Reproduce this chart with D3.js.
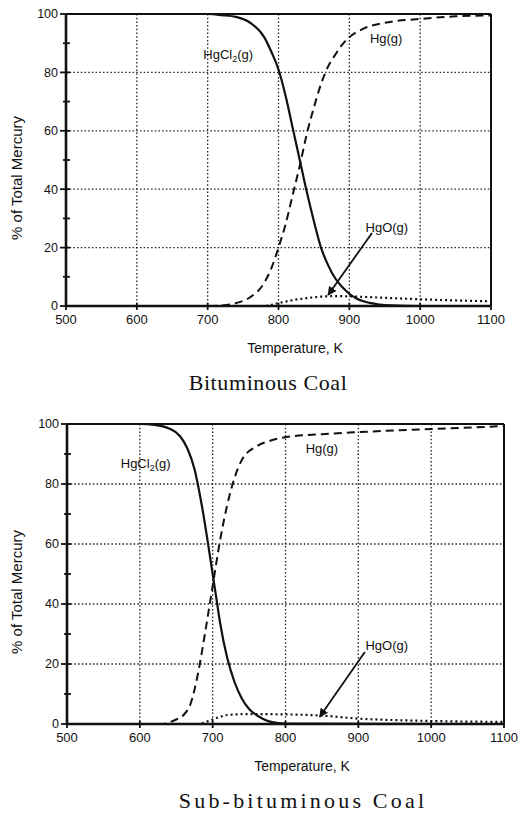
<!DOCTYPE html>
<html>
<head>
  <meta charset="UTF-8">
  <title>Mercury speciation</title>
  <script src="https://cdnjs.cloudflare.com/ajax/libs/d3/7.8.5/d3.min.js"></script>
  <style>
    body { margin: 0; background: #fff; }
    .tick-label { font: 12.5px "Liberation Sans", Arial, sans-serif; fill: #111; }
    .axis-title { font: 14px "Liberation Sans", Arial, sans-serif; fill: #111; }
    .curve-label { font: 13px "Liberation Sans", Arial, sans-serif; fill: #111; }
    .caption { font: 22px "Liberation Serif", "Times New Roman", serif; fill: #111; }
  </style>
</head>
<body>
<script>
  // Temperatures (K) and species percentages
  const xTicks = [500, 600, 700, 800, 900, 1000, 1100];
  const yTicks = [0, 20, 40, 60, 80, 100];

  // Bituminous coal
  const bitT_HgCl2 = [500, 600, 700, 720, 740, 760, 780, 790, 800, 810, 820, 830, 840, 850, 860, 870, 880, 890, 900, 910, 920, 940, 960, 1000, 1100];
  const bitV_HgCl2 = [100, 100, 100, 99.6, 99, 97, 92, 87, 81, 72, 61, 50, 39, 29, 20, 14, 9.5, 6.5, 4.2, 2.6, 1.6, 0.6, 0.2, 0, 0];
  const bitT_Hg = [500, 700, 720, 740, 760, 780, 790, 800, 810, 820, 830, 840, 850, 860, 870, 880, 890, 900, 920, 950, 1000, 1050, 1100];
  const bitV_Hg = [0, 0, 0.2, 1, 3, 8, 13, 20, 28, 38, 48, 59, 68, 76, 82, 86, 89.5, 92, 95, 97, 98.3, 99.2, 99.5];
  const bitT_HgO = [500, 780, 800, 820, 840, 860, 880, 900, 950, 1000, 1050, 1100];
  const bitV_HgO = [0, 0, 1, 2, 2.7, 3.2, 3.4, 3.3, 2.8, 2.3, 1.9, 1.6];

  // Sub-bituminous coal
  const subT_HgCl2 = [500, 600, 620, 640, 655, 665, 675, 685, 695, 700, 705, 710, 720, 730, 740, 750, 760, 770, 780, 800, 1100];
  const subV_HgCl2 = [100, 100, 99.7, 98.5, 96, 92, 85, 73, 58, 50, 42, 34, 22, 14, 8.5, 5, 3, 1.6, 0.7, 0.1, 0];
  const subT_Hg = [500, 630, 640, 650, 660, 670, 680, 690, 700, 710, 720, 730, 740, 760, 780, 800, 850, 900, 1000, 1100];
  const subV_Hg = [0, 0, 0.5, 1.5, 3, 7, 17, 31, 46, 61, 73, 82, 88, 92.5, 94.5, 95.6, 96.6, 97.3, 98.3, 99.3];
  const subT_HgO = [500, 680, 690, 700, 710, 720, 750, 800, 850, 900, 950, 1000, 1100];
  const subV_HgO = [0, 0, 0.6, 1.5, 2.4, 3, 3.3, 3.2, 2.8, 1.8, 1.3, 1, 0.7];

  const panels = [
    {
      caption: "Bituminous Coal", left: 66, right: 491, top: 14, bottom: 306,
      captionX: 268, captionSpacing: 0.6, xTitleX: 295,
      hgcl2: [bitT_HgCl2, bitV_HgCl2], hg: [bitT_Hg, bitV_Hg], hgo: [bitT_HgO, bitV_HgO],
      hgcl2Label: [729, 86], hgLabel: [952, 91.5], hgoLabel: [953, 27],
      arrow: [[932, 25], [870, 3.8]]
    },
    {
      caption: "Sub-bituminous Coal", left: 67, right: 504, top: 424, bottom: 724,
      captionX: 303, captionSpacing: 3.2, xTitleX: 302,
      hgcl2: [subT_HgCl2, subV_HgCl2], hg: [subT_Hg, subV_Hg], hgo: [subT_HgO, subV_HgO],
      hgcl2Label: [608, 87], hgLabel: [850, 92], hgoLabel: [939, 26.3],
      arrow: [[909, 24], [847, 2.4]]
    }
  ];

  const svg = d3.select("body").append("svg")
    .attr("width", 532)
    .attr("height", 819);

  svg.append("defs").append("marker")
    .attr("id", "arrowhead")
    .attr("viewBox", "0 0 10 10")
    .attr("refX", 9).attr("refY", 5)
    .attr("markerWidth", 9).attr("markerHeight", 9)
    .attr("markerUnits", "userSpaceOnUse")
    .attr("orient", "auto")
    .append("path")
    .attr("d", "M0,0 L10,5 L0,10 z")
    .attr("fill", "#111");

  panels.forEach(p => {
    const x = d3.scaleLinear().domain([500, 1100]).range([p.left, p.right]);
    const y = d3.scaleLinear().domain([0, 100]).range([p.bottom, p.top]);
    const g = svg.append("g");

    // dotted grid
    g.selectAll(".vgrid").data(xTicks.slice(1, -1)).enter().append("line")
      .attr("x1", d => x(d)).attr("x2", d => x(d))
      .attr("y1", y(100)).attr("y2", y(0))
      .attr("stroke", "#222").attr("stroke-width", 1.3)
      .attr("stroke-dasharray", "1.5,2.2");
    g.selectAll(".hgrid").data(yTicks.slice(1, -1)).enter().append("line")
      .attr("x1", x(500)).attr("x2", x(1100))
      .attr("y1", d => y(d)).attr("y2", d => y(d))
      .attr("stroke", "#222").attr("stroke-width", 1.3)
      .attr("stroke-dasharray", "1.5,2.2");

    // curves
    const line = d3.line().x(d => x(d[0])).y(d => y(d[1])).curve(d3.curveMonotoneX);
    const pts = arr => arr[0].map((t, i) => [t, arr[1][i]]);

    g.append("path").datum(pts(p.hgo)).attr("d", line)
      .attr("fill", "none").attr("stroke", "#111").attr("stroke-width", 2.2)
      .attr("stroke-dasharray", "2,3");
    g.append("path").datum(pts(p.hg)).attr("d", line)
      .attr("fill", "none").attr("stroke", "#111").attr("stroke-width", 2)
      .attr("stroke-dasharray", "8,5");
    g.append("path").datum(pts(p.hgcl2)).attr("d", line)
      .attr("fill", "none").attr("stroke", "#111").attr("stroke-width", 2.2);

    // frame
    g.append("line").attr("x1", x(500)).attr("x2", x(1100)).attr("y1", y(100)).attr("y2", y(100))
      .attr("stroke", "#111").attr("stroke-width", 2.2);
    g.append("line").attr("x1", x(1100)).attr("x2", x(1100)).attr("y1", y(100)).attr("y2", y(0))
      .attr("stroke", "#111").attr("stroke-width", 2);
    g.append("line").attr("x1", x(500)).attr("x2", x(1100)).attr("y1", y(0)).attr("y2", y(0))
      .attr("stroke", "#111").attr("stroke-width", 2.6);
    g.append("line").attr("x1", x(500)).attr("x2", x(500)).attr("y1", y(100)).attr("y2", y(0))
      .attr("stroke", "#111").attr("stroke-width", 2.6);

    // y axis ticks (every 10) and labels
    const yAxis = d3.axisLeft(y).tickValues(d3.range(0, 101, 10)).tickSize(0).tickFormat("");
    g.append("g").attr("transform", `translate(${x(500)},0)`).call(yAxis)
      .call(a => a.select(".domain").remove());
    g.selectAll(".ytick").data(d3.range(0, 101, 10)).enter().append("line")
      .attr("x1", d => x(500) - (d % 20 === 0 ? 6 : 3)).attr("x2", x(500) + 4)
      .attr("y1", d => y(d)).attr("y2", d => y(d))
      .attr("stroke", "#111").attr("stroke-width", 1.8);
    g.selectAll(".ylab").data(yTicks).enter().append("text")
      .attr("class", "tick-label")
      .attr("x", x(500) - 8).attr("y", d => y(d))
      .attr("dy", "0.35em").attr("text-anchor", "end")
      .text(d => d);

    // x axis ticks and labels
    g.selectAll(".xtick").data(xTicks).enter().append("line")
      .attr("x1", d => x(d)).attr("x2", d => x(d))
      .attr("y1", y(0) - 3).attr("y2", y(0) + 4)
      .attr("stroke", "#111").attr("stroke-width", 1.8);
    g.selectAll(".xlab").data(xTicks).enter().append("text")
      .attr("class", "tick-label").style("font-size", "13px")
      .attr("x", d => x(d)).attr("y", y(0) + 18)
      .attr("text-anchor", "middle")
      .text(d => d);

    // axis titles
    g.append("text").attr("class", "axis-title")
      .attr("x", p.xTitleX).attr("y", y(0) + 47)
      .attr("text-anchor", "middle")
      .text("Temperature, K");
    g.append("text").attr("class", "axis-title").style("font-size", "15px")
      .attr("transform", `translate(22,${(y(0) + y(100)) / 2 + 18}) rotate(-90)`)
      .attr("text-anchor", "middle")
      .text("% of Total Mercury");

    // curve labels
    const hgcl2 = g.append("text").attr("class", "curve-label")
      .attr("x", x(p.hgcl2Label[0])).attr("y", y(p.hgcl2Label[1]))
      .attr("dy", "0.35em").attr("text-anchor", "middle");
    hgcl2.append("tspan").text("HgCl");
    hgcl2.append("tspan").attr("font-size", "9px").attr("dy", "3").text("2");
    hgcl2.append("tspan").attr("dy", "-3").text("(g)");
    g.append("text").attr("class", "curve-label")
      .attr("x", x(p.hgLabel[0])).attr("y", y(p.hgLabel[1]))
      .attr("dy", "0.35em").attr("text-anchor", "middle")
      .text("Hg(g)");
    g.append("text").attr("class", "curve-label")
      .attr("x", x(p.hgoLabel[0])).attr("y", y(p.hgoLabel[1]))
      .attr("dy", "0.35em").attr("text-anchor", "middle")
      .text("HgO(g)");

    // arrow to HgO curve
    g.append("line")
      .attr("x1", x(p.arrow[0][0])).attr("y1", y(p.arrow[0][1]))
      .attr("x2", x(p.arrow[1][0])).attr("y2", y(p.arrow[1][1]))
      .attr("stroke", "#111").attr("stroke-width", 1.8)
      .attr("marker-end", "url(#arrowhead)");

    // caption
    g.append("text").attr("class", "caption")
      .attr("x", p.captionX).attr("y", y(0) + 84)
      .attr("text-anchor", "middle")
      .style("letter-spacing", p.captionSpacing + "px")
      .text(p.caption);
  });
</script>
</body>
</html>
